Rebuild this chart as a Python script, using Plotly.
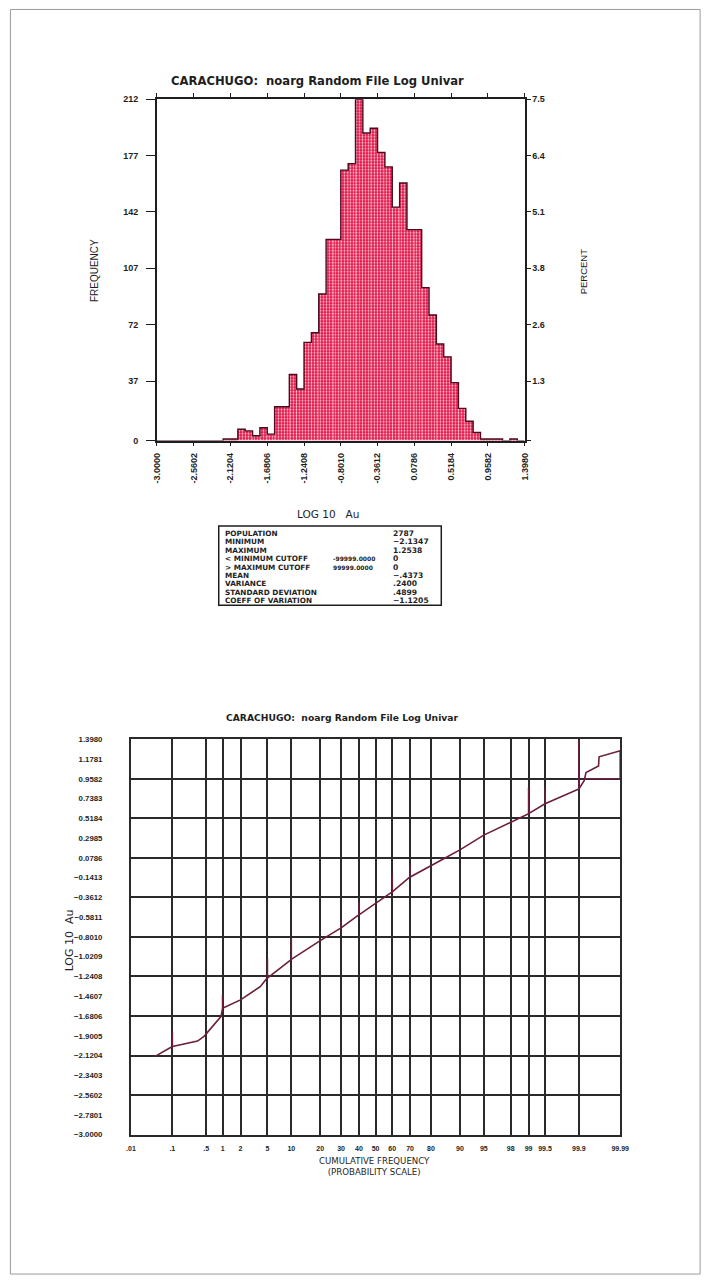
import plotly.graph_objects as go
from statistics import NormalDist

W, H = 715, 1285

# ---------------- histogram of log10 Au ----------------
bin_start = -3.0
bin_width = 0.08796
counts = [0, 0, 0, 0, 0, 0, 0, 0, 0,
          1, 1, 7, 6, 3, 8, 4,
          21, 21, 41, 32, 61, 67, 91,
          125, 125, 168, 172, 212, 191, 194,
          179, 170, 145, 160, 131, 131, 95,
          78, 60, 52, 36, 20, 12, 5,
          1, 1, 1, 0, 1, 0]
population = 2787

hist_tick_text = ["-3.0000", "-2.5602", "-2.1204", "-1.6806", "-1.2408", "-0.8010",
                  "-0.3612", "0.0786", "0.5184", "0.9582", "1.3980"]
freq_ticks = [0, 37, 72, 107, 142, 177, 212]
pct_text = ["", "1.3", "2.6", "3.8", "5.1", "6.4", "7.5"]

stat_names = ["POPULATION", "MINIMUM", "MAXIMUM", "< MINIMUM CUTOFF", "> MAXIMUM CUTOFF",
              "MEAN", "VARIANCE", "STANDARD DEVIATION", "COEFF OF VARIATION"]
stat_cutoffs = ["", "", "", "-99999.0000", "99999.0000", "", "", "", ""]
stat_values = ["2787", "\u22122.1347", "1.2538", "0", "0", "\u2212.4373", ".2400", ".4899", "\u22121.1205"]

# ---------------- cumulative probability plot ----------------
prob_ticks = [0.01, 0.1, 0.5, 1, 2, 5, 10, 20, 30, 40, 50, 60, 70, 80, 90, 95, 98, 99, 99.5, 99.9, 99.99]
prob_text = [".01", ".1", ".5", "1", "2", "5", "10", "20", "30", "40", "50", "60", "70", "80",
             "90", "95", "98", "99", "99.5", "99.9", "99.99"]
log_tick_text = ["\u22123.0000", "\u22122.7801", "\u22122.5602", "\u22122.3403", "\u22122.1204",
                 "\u22121.9005", "\u22121.6806", "\u22121.4607", "\u22121.2408", "\u22121.0209",
                 "\u22120.8010", "\u22120.5811", "\u22120.3612", "\u22120.1413", "0.0786", "0.2985",
                 "0.5184", "0.7383", "0.9582", "1.1781", "1.3980"]

# plotted pen path of the sorted sample (cumulative %, log10 Au), including the pen ticks
cum_pct = [0.04, 0.09, 0.1, 0.1, 0.1, 0.34, 0.46, 0.94, 1.0, 1.0, 1.0, 2.0, 3.97, 4.9,
           5.0, 5.0, 5.0, 9.7, 10, 10, 10, 20, 29.1, 30, 30, 30, 39.1, 40, 40, 40,
           59.1, 60, 60, 60, 69.3, 70, 70, 70, 85.3, 90, 95, 98.33,
           99, 99, 99, 99.5, 99.5, 99.5, 99.9, 99.9, 99.9,
           99.924, 99.931, 99.965, 99.966, 99.99, 99.99, 99.924]
log_au = [-2.13, -2.03, -2.02, -1.86, -2.02, -1.959, -1.904, -1.684, -1.593, -1.446, -1.593,
          -1.501, -1.354, -1.263, -1.26, -1.043, -1.26, -1.061, -1.05, -0.822, -1.05,
          -0.842, -0.714, -0.70, -0.621, -0.70, -0.567, -0.555, -0.42, -0.555,
          -0.311, -0.30, -0.107, -0.30, -0.145, -0.135, 0.0, -0.135, 0.075, 0.167, 0.332, 0.497,
          0.570, 0.86, 0.570, 0.680, 0.86, 0.680, 0.845, 1.38, 0.845,
          0.936, 1.028, 1.101, 1.203, 1.27, 0.9582, 0.9582]

TITLE = "CARACHUGO:\u00a0\u00a0noarg Random File Log Univar"
INK = "#1e1e1e"
LBL = dict(family="Liberation Sans, Arial, sans-serif", size=9, color=INK, weight="bold")


def probit(p):
    return NormalDist().inv_cdf(p / 100.0)


def px(x):
    return x / W


def py(y):
    return 1 - y / H


# derived geometry of the bins
edges = [bin_start + i * bin_width for i in range(len(counts) + 1)]
centers = [e + bin_width / 2 for e in edges[:-1]]
step_x = [edges[0]] + edges[:-1] + [edges[-1]]
step_y = [0] + counts + [0]
hist_tick_vals = [float(t) for t in hist_tick_text]
pct_range_top = max(freq_ticks)

zx = [probit(p) for p in prob_ticks]
zcurve = [probit(p) for p in cum_pct]
log_tick_vals = [float(t.replace("\u2212", "-")) for t in log_tick_text]
grid_vals = log_tick_vals[::2]

fig = go.Figure()

fig.add_trace(go.Bar(
    x=centers, y=counts, width=bin_width, xaxis="x", yaxis="y", showlegend=False,
    marker=dict(color="#e3164a", line=dict(width=0),
                pattern=dict(shape=".", fgcolor="white", fgopacity=0.8, size=3,
                             solidity=0.3, fillmode="overlay")),
    hoverinfo="skip"))
fig.add_trace(go.Scatter(
    x=step_x, y=step_y, mode="lines", xaxis="x", yaxis="y", showlegend=False,
    line=dict(color="#4d0b1d", width=1.4, shape="hv"), hoverinfo="skip"))
fig.add_trace(go.Scatter(x=[None], y=[None], xaxis="x", yaxis="y2", showlegend=False))

fig.add_trace(go.Scatter(x=[None], y=[None], xaxis="x2", yaxis="y4", showlegend=False))
fig.add_trace(go.Scatter(
    x=zcurve, y=log_au, mode="lines", xaxis="x2", yaxis="y3", showlegend=False,
    line=dict(color="#6b1e3e", width=1.6)))

hist_x_dom = [px(155), px(530)]
hist_y_dom = [py(439), py(95)]
prob_x_dom = [px(128.5), px(627.5)]
prob_y_dom = [py(1138.5), py(740)]

axis_common = dict(showgrid=False, zeroline=False, linecolor=INK, tickcolor=INK)
small = dict(family="Liberation Sans, Arial, sans-serif", size=7.8, color=INK, weight="bold")

fig.update_layout(
    width=W, height=H, margin=dict(l=0, r=0, t=0, b=0), autosize=False,
    paper_bgcolor="white", plot_bgcolor="rgba(0,0,0,0)", barmode="overlay",
    showlegend=False,
    xaxis=dict(domain=hist_x_dom, range=[bin_start, 1.398], anchor="y",
               tickmode="array", tickvals=hist_tick_vals, ticktext=hist_tick_text,
               tickangle=-90, ticks="outside", ticklen=4, tickwidth=1.4, ticklabelstandoff=3,
               showline=True, linewidth=1.8, mirror="ticks", tickfont=LBL, **axis_common),
    yaxis=dict(domain=hist_y_dom, range=[0, pct_range_top], anchor="x",
               tickmode="array", tickvals=freq_ticks, ticktext=[str(v) for v in freq_ticks],
               ticks="outside", ticklen=9, tickwidth=1.4, ticklabelstandoff=6,
               showline=True, linewidth=1.8, tickfont=LBL, **axis_common),
    yaxis2=dict(overlaying="y", side="right", anchor="x", range=[0, pct_range_top],
                tickmode="array", tickvals=freq_ticks, ticktext=pct_text,
                ticks="outside", ticklen=4, tickwidth=1.4, showline=True, linewidth=1.8,
                tickfont=LBL, **axis_common),
    xaxis2=dict(domain=prob_x_dom, range=[zx[0], zx[-1]], anchor="y3",
                tickmode="array", tickvals=zx, ticktext=prob_text,
                ticks="outside", ticklen=6, tickcolor="rgba(0,0,0,0)",
                showgrid=True, gridcolor="#2a2a2a", gridwidth=1.8, zeroline=False,
                showline=True, linecolor="#2a2a2a", linewidth=2, mirror=True,
                tickfont=dict(small, size=7)),
    yaxis3=dict(domain=prob_y_dom, range=[log_tick_vals[0], log_tick_vals[-1]], anchor="x2",
                tickmode="array", tickvals=log_tick_vals, ticktext=log_tick_text,
                ticks="outside", ticklen=25, tickcolor="rgba(0,0,0,0)",
                showgrid=False, zeroline=False,
                showline=True, linecolor="#2a2a2a", linewidth=2, mirror=True,
                tickfont=small),
    yaxis4=dict(overlaying="y3", anchor="x2", range=[log_tick_vals[0], log_tick_vals[-1]],
                tickmode="array", tickvals=grid_vals, showticklabels=False,
                showgrid=True, gridcolor="#2a2a2a", gridwidth=1.8, zeroline=False),
)

ann = []
title_font = dict(family="DejaVu Sans, Verdana, sans-serif", size=11.6, color=INK, weight="bold")
ann.append(dict(text=TITLE, x=px(319), y=py(77), font=title_font))
ann.append(dict(text="FREQUENCY", x=px(92), y=py(268), textangle=-90,
                font=dict(family="Liberation Sans, Arial", size=10, color=INK)))
ann.append(dict(text="PERCENT", x=px(590), y=py(268), textangle=-90,
                font=dict(family="Liberation Sans, Arial", size=9.5, color=INK)))
ann.append(dict(text="LOG 10\u00a0\u00a0\u00a0Au", x=px(329), y=py(513),
                font=dict(family="DejaVu Sans, sans-serif", size=10.5, color=INK)))

stat_font = dict(family="DejaVu Sans, sans-serif", size=7.3, color=INK, weight="bold")
for i, (name, cut, val) in enumerate(zip(stat_names, stat_cutoffs, stat_values)):
    yy = py(532.5 + 8.5 * i)
    ann.append(dict(text=name, x=px(222), y=yy, xanchor="left", font=stat_font))
    if cut:
        ann.append(dict(text=cut, x=px(333), y=yy, xanchor="left",
                        font=dict(stat_font, size=6)))
    ann.append(dict(text=val, x=px(394), y=yy, xanchor="left",
                    font=dict(stat_font, size=7.6)))

ann.append(dict(text=TITLE, x=px(344), y=py(718), font=dict(title_font, size=9.2)))
ann.append(dict(text="LOG 10\u00a0\u00a0Au", x=px(66), y=py(943), textangle=-90,
                font=dict(family="DejaVu Sans, sans-serif", size=11, color=INK)))
ann.append(dict(text="CUMULATIVE FREQUENCY<br>(PROBABILITY SCALE)", x=px(377), y=py(1171),
                font=dict(family="DejaVu Sans, sans-serif", size=8.6, color=INK), align="center"))

for a in ann:
    a.update(xref="paper", yref="paper", showarrow=False)
    a.setdefault("xanchor", "center")
    a.setdefault("yanchor", "middle")
fig.update_layout(annotations=ann)

fig.update_layout(shapes=[
    dict(type="rect", xref="paper", yref="paper", x0=px(218), x1=px(445), y0=py(605), y1=py(525),
         line=dict(color=INK, width=1.5)),
    dict(type="rect", xref="paper", yref="paper", x0=px(5.5), x1=px(709), y0=py(1279), y1=py(4.5),
         line=dict(color="#9a9a9a", width=1)),
])

fig.write_html("out.html")
